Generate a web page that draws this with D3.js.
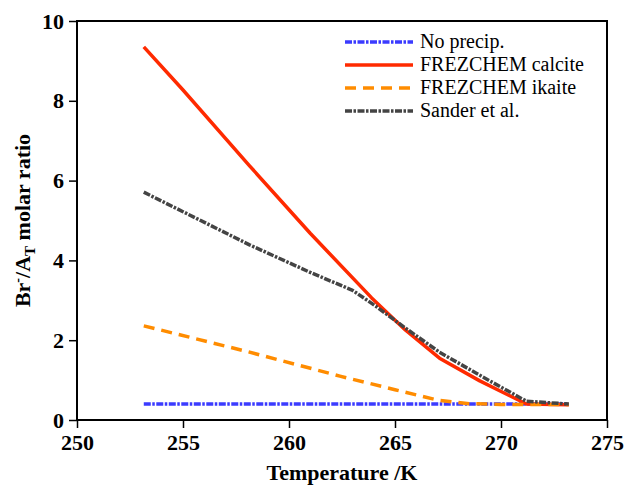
<!DOCTYPE html>
<html><head><meta charset="utf-8">
<script src="https://cdn.jsdelivr.net/npm/d3@7/dist/d3.min.js"></script>
<style>body{margin:0;background:#fff}svg{display:block}</style>
</head><body>
<svg id="c" width="628" height="485" font-family="Liberation Serif"></svg>
<script>
const xTicks = [250, 255, 260, 265, 270, 275];
const yTicks = [0, 2, 4, 6, 8, 10];
const seriesNames = ["No precip.", "FREZCHEM calcite", "FREZCHEM ikaite", "Sander et al."];
const noPrecipT = [253.15, 273.2];
const noPrecipV = [0.40, 0.40];
const calciteT = [253.15, 255, 258.14, 261, 263.9, 265.5, 267.1, 269, 271.2, 273.2];
const calciteV = [9.35, 8.27, 6.37, 4.68, 3.06, 2.25, 1.55, 0.98, 0.40, 0.38];
const ikaiteT = [253.15, 258, 262.4, 265, 267, 268.5, 270, 273.2];
const ikaiteV = [2.36, 1.72, 1.10, 0.76, 0.50, 0.41, 0.39, 0.39];
const sanderT = [253.15, 255, 258.14, 261, 263, 264.1, 265.5, 267.1, 269, 271.2, 273.2];
const sanderV = [5.71, 5.22, 4.39, 3.70, 3.25, 2.85, 2.30, 1.70, 1.12, 0.47, 0.40];

const svg = d3.select("#c");
const L = 77, R = 607, T = 21, B = 420;
const x = d3.scaleLinear().domain([250, 275]).range([L, R]);
const y = d3.scaleLinear().domain([0, 10]).range([B, T]);
const FONT = "Liberation Serif";

const series = [
  {name: seriesNames[0], t: noPrecipT, v: noPrecipV, color: "#3b3bff", dash: "7,1.5,2.5,1.5"},
  {name: seriesNames[1], t: calciteT, v: calciteV, color: "#ff2a00", dash: null},
  {name: seriesNames[2], t: ikaiteT, v: ikaiteV, color: "#ff8c00", dash: "11,7"},
  {name: seriesNames[3], t: sanderT, v: sanderV, color: "#444444", dash: "7,1.5,2.5,1.5"}
];
const line = d3.line().x(d => x(d[0])).y(d => y(d[1]));
series.forEach(s => {
  svg.append("path")
    .datum(s.t.map((t, i) => [t, s.v[i]]))
    .attr("d", line)
    .attr("fill", "none")
    .attr("stroke", s.color)
    .attr("stroke-width", 3.5)
    .attr("stroke-dasharray", s.dash)
    .attr("stroke-linejoin", "round");
});

svg.append("rect").attr("x", L).attr("y", T).attr("width", R - L).attr("height", B - T)
  .attr("fill", "none").attr("stroke", "#000").attr("stroke-width", 2);

const xa = svg.append("g").attr("transform", `translate(0,${B})`)
  .call(d3.axisBottom(x).tickValues(xTicks).tickSize(8).tickPadding(6).tickFormat(d3.format("d")));
const ya = svg.append("g").attr("transform", `translate(${L},0)`)
  .call(d3.axisLeft(y).tickValues(yTicks).tickSize(8).tickPadding(5).tickFormat(d3.format("d")));
[xa, ya].forEach(a => {
  a.attr("font-family", FONT).attr("font-size", 22).attr("font-weight", "bold");
  a.select(".domain").remove();
  a.selectAll("line").attr("stroke", "#000").attr("stroke-width", 1.5);
  a.selectAll("text").attr("fill", "#000");
});

svg.append("text").attr("x", (L + R) / 2).attr("y", 480).attr("text-anchor", "middle")
  .attr("font-family", FONT).attr("font-weight", "bold").attr("font-size", 22).text("Temperature /K");

const yt = svg.append("text").attr("transform", `translate(30,${(T + B) / 2}) rotate(-90)`)
  .attr("text-anchor", "middle").attr("font-family", FONT).attr("font-weight", "bold").attr("font-size", 22);
yt.append("tspan").text("Br");
yt.append("tspan").attr("font-size", 14).attr("dy", -8).text("-");
yt.append("tspan").attr("dy", 8).text("/A");
yt.append("tspan").attr("font-size", 15).attr("dy", 5).text("T");
yt.append("tspan").attr("dy", -5).text(" molar ratio");

const lg = svg.append("g");
series.forEach((s, i) => {
  const yy = 42 + i * 23;
  lg.append("line").attr("x1", 345).attr("x2", 413).attr("y1", yy).attr("y2", yy)
    .attr("stroke", s.color).attr("stroke-width", 3.5).attr("stroke-dasharray", s.dash);
  lg.append("text").attr("x", 420).attr("y", yy + 6).attr("font-family", FONT)
    .attr("font-size", 20).text(s.name);
});
</script>
</body></html>
